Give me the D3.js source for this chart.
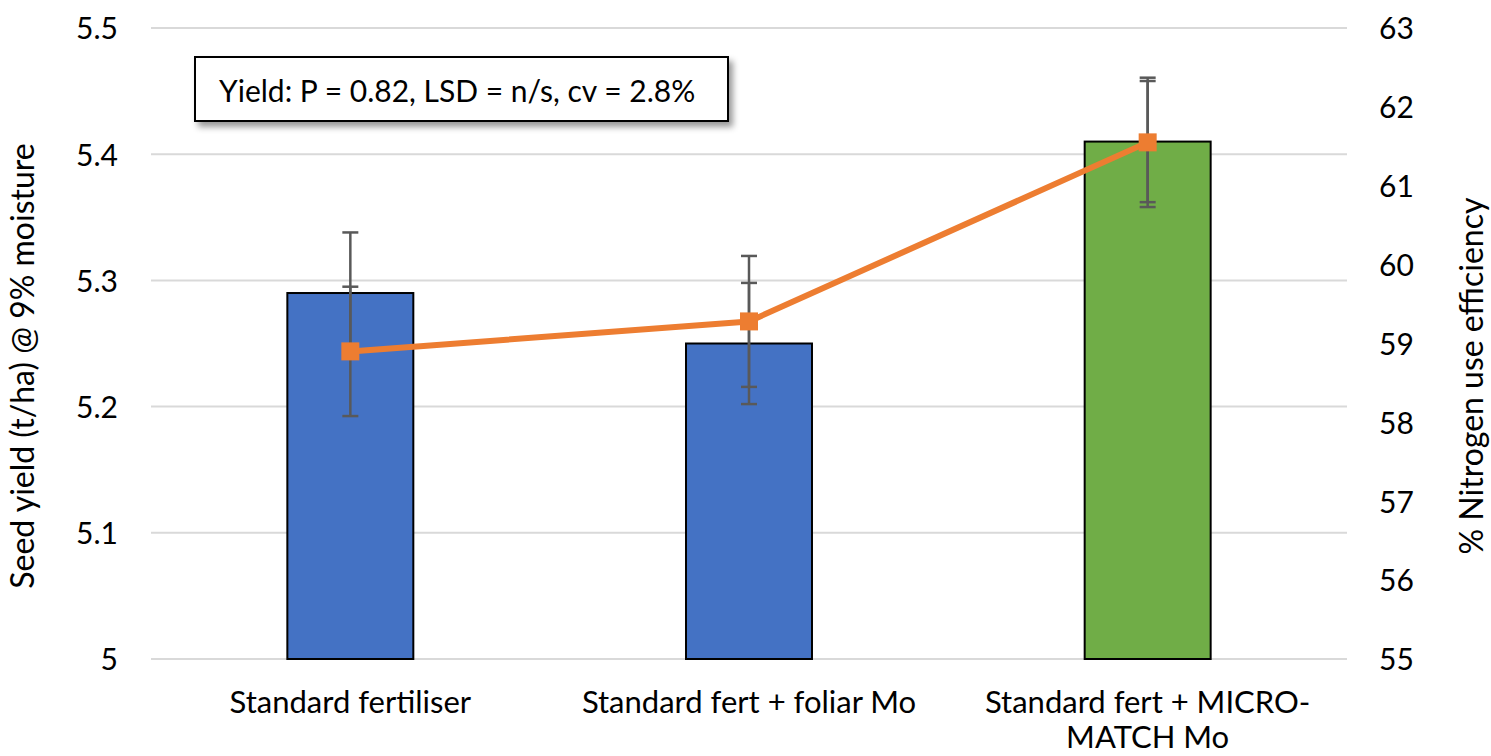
<!DOCTYPE html>
<meta charset="utf-8">
<style>

body {
  margin: 0;
  background: #fff;
}

text {
  font-family: Lato, "Open Sans", sans-serif;
  font-size: 30px;
  fill: #000;
}

.grid line {
  stroke: #d9d9d9;
  stroke-width: 2px;
}

.bar {
  stroke: #000;
  stroke-width: 2px;
}

.err {
  stroke: #595959;
  stroke-width: 2.5px;
  fill: none;
}

</style>
<svg width="1491" height="756"></svg>
<script src="https://d3js.org/d3.v7.min.js"></script>
<script>

// values
var categories = ["Standard fertiliser", "Standard fert + foliar Mo", "Standard fert + MICRO-MATCH Mo"];
var yieldValues = [5.29, 5.25, 5.41];      // t/ha, bars, left axis
var yieldErrors = [0.048, 0.048, 0.048];
var nueValues = [58.90, 59.28, 61.55];     // % NUE, line, right axis
var nueErrors = [0.82, 0.83, 0.82];
var leftTicks = [5, 5.1, 5.2, 5.3, 5.4, 5.5];
var rightTicks = [55, 56, 57, 58, 59, 60, 61, 62, 63];
var note = "Yield: P = 0.82, LSD = n/s, cv = 2.8%";

var svg = d3.select("svg"),
    plotLeft = 151, plotRight = 1347, plotTop = 28, plotBottom = 659;

var x = d3.scaleBand()
    .domain(categories)
    .range([plotLeft, plotRight])
    .paddingInner(0.684)
    .paddingOuter(0.342);

var yL = d3.scaleLinear().domain([5, 5.5]).range([plotBottom, plotTop]);
var yR = d3.scaleLinear().domain([55, 63]).range([plotBottom, plotTop]);

var blue = "#4472c4", green = "#70ad47", orange = "#ed7d31";

var defs = svg.append("defs");
defs.append("filter").attr("id", "shadow")
    .attr("x", "-10%").attr("y", "-30%").attr("width", "120%").attr("height", "170%")
  .append("feDropShadow")
    .attr("dx", 4).attr("dy", 5).attr("stdDeviation", 3)
    .attr("flood-color", "#000").attr("flood-opacity", 0.4);

// gridlines
svg.append("g").attr("class", "grid")
  .selectAll("line")
  .data(leftTicks)
  .enter().append("line")
    .attr("x1", plotLeft).attr("x2", plotRight)
    .attr("y1", function(d) { return yL(d); })
    .attr("y2", function(d) { return yL(d); });

// left axis
var axL = svg.append("g")
    .attr("transform", "translate(" + plotLeft + ",0)")
    .call(d3.axisLeft(yL).tickValues(leftTicks).tickSize(0).tickPadding(33).tickFormat(d3.format("")));
axL.select(".domain").remove();
axL.selectAll("text").style("font-size", "30px").style("font-family", null).attr("dy", "0.36em");

// right axis
var axR = svg.append("g")
    .attr("transform", "translate(" + plotRight + ",0)")
    .call(d3.axisRight(yR).tickValues(rightTicks).tickSize(0).tickPadding(32));
axR.select(".domain").remove();
axR.selectAll("text").style("font-size", "30px").style("font-family", null).attr("dy", "0.36em");

// bars
var bw = x.bandwidth();
svg.append("g").selectAll("rect")
  .data(yieldValues)
  .enter().append("rect")
    .attr("class", "bar")
    .attr("x", function(d, i) { return x(categories[i]); })
    .attr("y", function(d) { return yL(d); })
    .attr("width", bw)
    .attr("height", function(d) { return yL(5) - yL(d); })
    .attr("fill", function(d, i) { return i === 2 ? green : blue; });

function errorBars(vals, errs, scale) {
  var g = svg.append("g").attr("class", "err");
  vals.forEach(function(v, i) {
    var cx = x(categories[i]) + bw / 2,
        y1 = scale(v + errs[i]),
        y2 = scale(v - errs[i]);
    g.append("line").attr("x1", cx).attr("x2", cx).attr("y1", y1).attr("y2", y2);
    g.append("line").attr("x1", cx - 8).attr("x2", cx + 8).attr("y1", y1).attr("y2", y1);
    g.append("line").attr("x1", cx - 8).attr("x2", cx + 8).attr("y1", y2).attr("y2", y2);
  });
}
errorBars(yieldValues, yieldErrors, yL);
errorBars(nueValues, nueErrors, yR);

// NUE line
var line = d3.line()
    .x(function(d, i) { return x(categories[i]) + bw / 2; })
    .y(function(d) { return yR(d); });

svg.append("path")
    .datum(nueValues)
    .attr("d", line)
    .attr("fill", "none")
    .attr("stroke", orange)
    .attr("stroke-width", 6)
    .attr("stroke-linejoin", "round");

svg.append("g").selectAll("rect")
  .data(nueValues)
  .enter().append("rect")
    .attr("x", function(d, i) { return x(categories[i]) + bw / 2 - 9; })
    .attr("y", function(d) { return yR(d) - 9; })
    .attr("width", 18).attr("height", 18)
    .attr("fill", orange);

// category labels, wrapped
function wrapWords(s, maxW, probe) {
  var tokens = s.replace(/-/g, "- ").split(/\s+/), lines = [], cur = "";
  tokens.forEach(function(t) {
    var joined = cur === "" ? t : (cur.slice(-1) === "-" ? cur + t : cur + " " + t);
    probe.text(joined);
    if (cur !== "" && probe.node().getComputedTextLength() > maxW) {
      lines.push(cur);
      cur = t;
    } else cur = joined;
  });
  lines.push(cur);
  return lines;
}

var probe = svg.append("text").style("font-size", "31px");
categories.forEach(function(c, i) {
  var lines = wrapWords(c, 340, probe);
  var t = svg.append("text")
      .attr("text-anchor", "middle")
      .style("font-size", "31px")
      .attr("x", x(c) + bw / 2)
      .attr("y", 713);
  lines.forEach(function(l, j) {
    t.append("tspan").attr("x", x(c) + bw / 2).attr("dy", j ? 35 : 0).text(l);
  });
});
probe.remove();

// axis titles
svg.append("text")
    .attr("transform", "translate(34,366) rotate(-90)")
    .attr("text-anchor", "middle")
    .style("font-size", "32px")
    .text("Seed yield (t/ha) @ 9% moisture");

svg.append("text")
    .attr("transform", "translate(1483,376) rotate(-90)")
    .attr("text-anchor", "middle")
    .style("font-size", "32px")
    .text("% Nitrogen use efficiency");

// stats box
svg.append("rect")
    .attr("x", 195).attr("y", 57)
    .attr("width", 533).attr("height", 64)
    .attr("fill", "#fff")
    .attr("stroke", "#000")
    .attr("stroke-width", 2)
    .attr("filter", "url(#shadow)");

svg.append("text")
    .attr("x", 219).attr("y", 102)
    .text(note);

</script>
